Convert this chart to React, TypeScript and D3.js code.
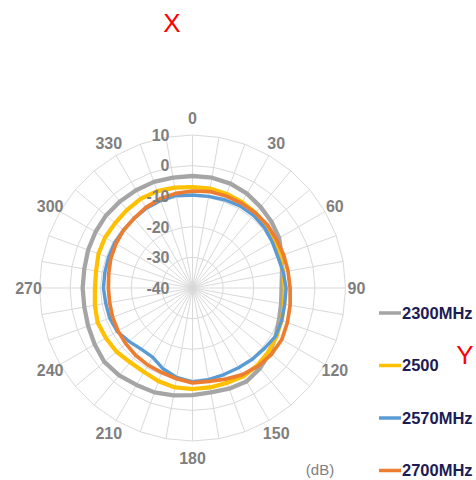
import React from "react";
import * as d3 from "d3";

const angles: number[] = d3.range(0, 360, 10);
const angleLabels: number[] = [0, 30, 60, 90, 120, 150, 180, 210, 240, 270, 300, 330];
const radialTicks: number[] = [-40, -30, -20, -10, 0, 10];

const s2300: number[] = [-3.4, -3.4, -3.7, -4.4, -5.4, -6.3, -7.3, -9.0, -10.3, -10.9, -10.6, -9.9, -8.6, -7.0, -5.7, -4.7, -5.0, -5.4, -5.0, -4.4, -3.7, -3.4, -2.7, -2.4, -3.1, -3.7, -4.1, -4.1, -4.1, -3.7, -3.4, -3.1, -3.1, -3.1, -3.1, -3.4];
const s2500: number[] = [-7.0, -7.0, -7.3, -7.6, -8.0, -8.3, -9.0, -9.6, -9.9, -9.9, -9.6, -9.0, -8.3, -7.6, -7.0, -6.7, -7.0, -7.0, -7.0, -7.0, -7.6, -8.3, -8.3, -7.6, -7.3, -7.0, -7.6, -8.1, -8.0, -7.3, -7.0, -7.0, -6.7, -6.3, -6.3, -6.7];
const s2570: number[] = [-9.6, -9.6, -9.3, -9.0, -9.0, -9.3, -9.9, -10.3, -9.9, -9.4, -9.4, -9.0, -8.6, -9.3, -9.6, -9.9, -9.9, -9.6, -9.3, -10.3, -11.9, -13.9, -13.9, -12.9, -11.6, -11.2, -11.2, -10.9, -10.9, -10.8, -10.6, -10.6, -10.3, -9.9, -9.6, -9.3];
const s2700: number[] = [-8.3, -8.0, -8.0, -8.0, -8.0, -8.0, -8.3, -8.3, -8.3, -8.1, -7.6, -7.0, -6.3, -6.3, -6.7, -7.3, -8.3, -9.0, -9.0, -9.9, -10.6, -10.9, -11.2, -11.6, -11.9, -12.2, -12.5, -12.5, -12.2, -11.6, -11.1, -10.6, -10.3, -9.6, -9.0, -8.6];

const seriesNames: string[] = ["2300MHz", "2500", "2570MHz", "2700MHz"];
const seriesColors: string[] = ["#A5A5A5", "#FFC000", "#5B9BD5", "#ED7D31"];
const seriesWidths: number[] = [4.3, 4.2, 3.4, 3.7];
const seriesData: number[][] = [s2300, s2500, s2570, s2700];

export default function App() {
  const W = 476, H = 480;
  const cx = 192.5, cy = 288;
  const R = 153;
  const r = d3.scaleLinear().domain([-40, 10]).range([0, R]);
  const toRad = (deg: number) => (deg * Math.PI) / 180;

  const gridPoly = (v: number) =>
    d3.lineRadial<number>()
      .angle((a) => toRad(a))
      .radius(() => r(v))
      .curve(d3.curveLinearClosed)(angles) as string;

  const seriesLine = (vals: number[]) =>
    d3.lineRadial<number>()
      .angle((_, i) => toRad(angles[i]))
      .radius((d) => r(d))
      .curve(d3.curveLinearClosed)(vals) as string;

  const font = "'Liberation Sans', Arial, sans-serif";
  const legendY0 = 313, legendStep = 52.5;

  return (
    <svg width={W} height={H} style={{ position: "fixed", left: 0, top: 0, background: "#fff" }}>
      <rect width={W} height={H} fill="#fff" />
      <g transform={`translate(${cx},${cy})`}>
        {radialTicks.slice(1).map((v) => (
          <path key={"g" + v} d={gridPoly(v)} fill="none" stroke="#d9d9d9" strokeWidth={1} />
        ))}
        {angles.map((a) => (
          <line key={"s" + a} x1={0} y1={0}
            x2={r(10) * Math.sin(toRad(a))} y2={-r(10) * Math.cos(toRad(a))}
            stroke="#d9d9d9" strokeWidth={1} />
        ))}
        {seriesData.map((vals, i) => (
          <path key={"p" + i} d={seriesLine(vals)} fill="none" stroke={seriesColors[i]}
            strokeWidth={seriesWidths[i]} strokeLinejoin="round" />
        ))}
        {radialTicks.map((v) => (
          <text key={"t" + v} x={-23} y={-r(v)} dy="0.36em" textAnchor="end"
            fontFamily={font} fontWeight="bold" fontSize={16} fill="#7f7f7f">{v}</text>
        ))}
        {angleLabels.map((a) => {
          const c = Math.cos(toRad(a));
          const lr = 164 + 6 * Math.pow(c, 4);
          return (
            <text key={"a" + a} x={lr * Math.sin(toRad(a))} y={-lr * c} dy="0.36em"
              textAnchor="middle" fontFamily={font} fontWeight="bold" fontSize={16} fill="#7f7f7f">{a}</text>
          );
        })}
      </g>
      <text x={320} y={470} dy="0.36em" textAnchor="middle" fontFamily={font} fontSize={15} fill="#7f7f7f">(dB)</text>
      {seriesNames.map((n, i) => (
        <g key={"l" + i}>
          <line x1={379} x2={401} y1={legendY0 + i * legendStep} y2={legendY0 + i * legendStep}
            stroke={seriesColors[i]} strokeWidth={3.5} />
          <text x={402} y={legendY0 + i * legendStep} dy="0.36em" fontFamily={font} fontWeight="bold"
            fontSize={16.5} fill="#1c1c54">{n}</text>
        </g>
      ))}
      <text x={172} y={23} dy="0.36em" textAnchor="middle" fontFamily={font} fontSize={26} fill="#ff0000">X</text>
      <text x={465} y={355} dy="0.36em" textAnchor="middle" fontFamily={font} fontSize={26} fill="#ff0000">Y</text>
    </svg>
  );
}
